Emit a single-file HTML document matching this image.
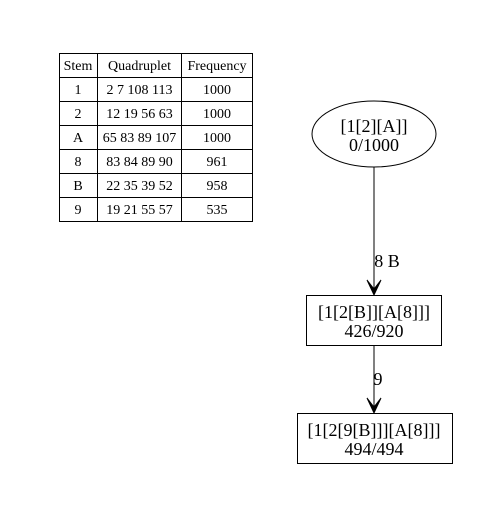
<!DOCTYPE html>
<html><head><style>body{margin:0;background:#fff}</style></head><body>
<svg width="499" height="512" xmlns="http://www.w3.org/2000/svg" font-family="Liberation Serif, serif" fill="none" stroke="#000">
<g stroke-width="1">
<rect x="59.5" y="53.5" width="193" height="168"/>
<line x1="97.5" y1="53" x2="97.5" y2="221"/>
<line x1="181.5" y1="53" x2="181.5" y2="221"/>
<line x1="59" y1="77.5" x2="252" y2="77.5"/>
<line x1="59" y1="101.5" x2="252" y2="101.5"/>
<line x1="59" y1="125.5" x2="252" y2="125.5"/>
<line x1="59" y1="149.5" x2="252" y2="149.5"/>
<line x1="59" y1="173.5" x2="252" y2="173.5"/>
<line x1="59" y1="197.5" x2="252" y2="197.5"/>
</g>
<g fill="#000" stroke="none" font-size="14" text-anchor="middle">
<text x="78" y="70">Stem</text><text x="139.5" y="70">Quadruplet</text><text x="217" y="70">Frequency</text>
<text x="78" y="94">1</text><text x="139.5" y="94">2 7 108 113</text><text x="217" y="94">1000</text>
<text x="78" y="118">2</text><text x="139.5" y="118">12 19 56 63</text><text x="217" y="118">1000</text>
<text x="78" y="142">A</text><text x="139.5" y="142">65 83 89 107</text><text x="217" y="142">1000</text>
<text x="78" y="166">8</text><text x="139.5" y="166">83 84 89 90</text><text x="217" y="166">961</text>
<text x="78" y="190">B</text><text x="139.5" y="190">22 35 39 52</text><text x="217" y="190">958</text>
<text x="78" y="214">9</text><text x="139.5" y="214">19 21 55 57</text><text x="217" y="214">535</text>
</g>
<ellipse cx="374" cy="134" rx="62" ry="33"/>
<rect x="306.5" y="295.5" width="135" height="50"/>
<rect x="297.5" y="413.5" width="155" height="50"/>
<line x1="374" y1="167" x2="374" y2="290"/>
<path d="M367 280 L374 295 L381 280 L374 289 Z" fill="#000"/>
<line x1="374" y1="345" x2="374" y2="408"/>
<path d="M367 398 L374 413 L381 398 L374 407 Z" fill="#000"/>
<g fill="#000" stroke="none" font-size="18" text-anchor="middle">
<text x="374" y="132">[1[2][A]]</text><text x="374" y="151">0/1000</text>
<text x="374" y="318">[1[2[B]][A[8]]]</text><text x="374" y="337">426/920</text>
<text x="374" y="436">[1[2[9[B]]][A[8]]]</text><text x="374" y="455">494/494</text>
<text x="387" y="267">8 B</text><text x="378" y="385">9</text>
</g>
</svg>
</body></html>
